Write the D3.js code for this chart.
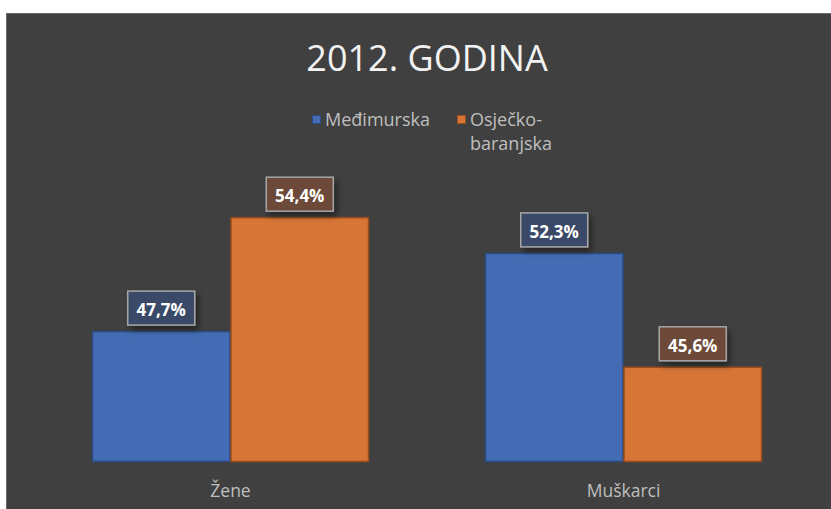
<!DOCTYPE html>
<html>
<head>
<meta charset="utf-8">
<script src="https://cdn.jsdelivr.net/npm/d3@7"></script>
<style>
  body { margin: 0; background: #ffffff; }
  svg { display: block; }
</style>
</head>
<body>
<svg id="chart" width="831" height="509"></svg>
<script>
const categories = ["Žene", "Muškarci"];
const series = ["Međimurska", "Osječko-baranjska"];
const values = {
    "Međimurska": [47.7, 52.3],
    "Osječko-baranjska": [54.4, 45.6]
};
const yDomain = [40, 56];

const SVG = d3.select("#chart");
const W = 831, H = 509;
const FONT = "'Open Sans', 'Noto Sans', sans-serif";
const COLORS = {"Međimurska": "#436cb4", "Osječko-baranjska": "#d67536"};
const STROKES = {"Međimurska": "#2c4a80", "Osječko-baranjska": "#9a4d1c"};
const LABEL_FILL = {"Međimurska": "#3a4a68", "Osječko-baranjska": "#6c4a37"};

// pozadina grafikona
SVG.append("rect").attr("x", 6).attr("y", 13).attr("width", W - 6).attr("height", H - 13)
    .attr("fill", "#404040");
SVG.append("line").attr("x1", 6).attr("x2", W).attr("y1", 13.5).attr("y2", 13.5)
    .attr("stroke", "#6a6a6a");
SVG.append("line").attr("x1", 6.5).attr("x2", 6.5).attr("y1", 13).attr("y2", H)
    .attr("stroke", "#6a6a6a");

const defs = SVG.append("defs");
const f = defs.append("filter").attr("id", "shadow").attr("x", "-30%").attr("y", "-30%")
    .attr("width", "160%").attr("height", "180%");
f.append("feDropShadow").attr("dx", 3).attr("dy", 4).attr("stdDeviation", 3)
    .attr("flood-color", "#000").attr("flood-opacity", 0.45);

// naslov
SVG.append("text").text("2012. GODINA")
    .attr("x", 427).attr("y", 71)
    .attr("text-anchor", "middle")
    .attr("font-family", FONT).attr("font-size", 36)
    .attr("fill", "#f2f2f2");

const X = d3.scaleBand().domain(categories).range([34, 820])
    .paddingInner(0.295).paddingOuter(0.1475);
const XS = d3.scaleBand().domain(series).range([0, X.bandwidth()]);
const Y = d3.scaleLinear().domain(yDomain).range([462, 190]);

let g = SVG.append("g");

// stupci
for (let s of series) {
    categories.forEach((c, i) => {
        let v = values[s][i];
        g.append("rect")
            .attr("x", X(c) + XS(s) + 0.5)
            .attr("y", Y(v) + 0.5)
            .attr("width", XS.bandwidth() - 1)
            .attr("height", Y(yDomain[0]) - Y(v) - 1)
            .attr("fill", COLORS[s])
            .attr("stroke", STROKES[s])
            .attr("stroke-width", 1.5);
    });
}

// oznake podataka
for (let s of series) {
    categories.forEach((c, i) => {
        let v = values[s][i];
        let cx = X(c) + XS(s) + XS.bandwidth() / 2;
        let lg = g.append("g");
        let box = lg.append("rect").attr("fill", LABEL_FILL[s])
            .attr("stroke", "#a6a6a6").attr("stroke-width", 1.5)
            .attr("filter", "url(#shadow)");
        let t = lg.append("text")
            .text(v.toFixed(1).replace(".", ",") + "%")
            .attr("x", cx).attr("y", Y(v) - 15)
            .attr("text-anchor", "middle")
            .attr("font-family", FONT).attr("font-size", 17).attr("font-weight", "bold")
            .attr("fill", "#ffffff");
        let tw = t.node().getComputedTextLength();
        let bw = Math.max(tw + 13, 67);
        box.attr("x", cx - bw / 2).attr("y", Y(v) - 40).attr("width", bw).attr("height", 34);
    });
}

// os x
categories.forEach(c => {
    SVG.append("text").text(c)
        .attr("x", X(c) + X.bandwidth() / 2).attr("y", 497)
        .attr("text-anchor", "middle")
        .attr("font-family", FONT).attr("font-size", 17.5)
        .attr("fill", "#bfbfbf");
});

// legenda
const legendX = [312, 457];
series.forEach((s, i) => {
    SVG.append("rect").attr("x", legendX[i] + 0.5).attr("y", 115.5).attr("width", 8).attr("height", 8)
        .attr("fill", COLORS[s]).attr("stroke", STROKES[s]).attr("stroke-width", 1);
    let lines = s === "Osječko-baranjska" ? ["Osječko-", "baranjska"] : [s];
    lines.forEach((ln, j) => {
        SVG.append("text").text(ln)
            .attr("x", legendX[i] + 13).attr("y", 126 + j * 24)
            .attr("font-family", FONT).attr("font-size", 18)
            .attr("fill", "#bfbfbf");
    });
});
</script>
</body>
</html>
